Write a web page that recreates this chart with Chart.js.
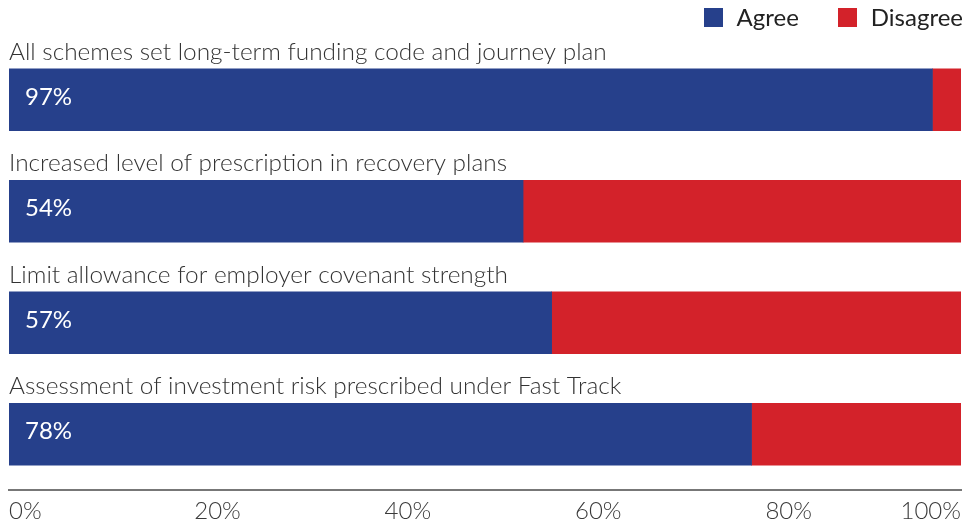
<!DOCTYPE html>
<html>
<head>
<meta charset="utf-8">
<script src="https://cdn.jsdelivr.net/npm/chart.js@4.4.1/dist/chart.umd.min.js"></script>
<style>
  body { margin: 0; background: #fff; }
  #wrap { position: relative; width: 968px; height: 526px; }
  #legend { position: absolute; top: 3px; right: 5px; display: flex; font: 400 24px Lato, sans-serif; color: #222; line-height: 28px; }
  #legend .item { display: flex; align-items: center; margin-left: 39px; }
  #legend .swatch { width: 19px; height: 19px; margin-right: 14px; }
</style>
</head>
<body>
<div id="wrap">
  <div id="legend"></div>
  <canvas id="chart" width="968" height="526"></canvas>
</div>
<script>
const questions = [
    'All schemes set long-term funding code and journey plan',
    'Increased level of prescription in recovery plans',
    'Limit allowance for employer covenant strength',
    'Assessment of investment risk prescribed under Fast Track'
];
const agree = [97, 54, 57, 78];
const disagree = [3, 46, 43, 22];
const seriesNames = ['Agree', 'Disagree'];
const seriesColors = ['#26408b', '#d3222a'];
const tickValues = [0, 20, 40, 60, 80, 100];
const tickLabels = ['0%', '20%', '40%', '60%', '80%', '100%'];

// printed scale sits a little to the right of the bar scale
const tickShift = 1.9;

// legend built in html, top right
const legend = document.getElementById('legend');
seriesNames.forEach(function(name, i) {
    const item = document.createElement('span');
    item.className = 'item';
    const swatch = document.createElement('span');
    swatch.className = 'swatch';
    swatch.style.background = seriesColors[i];
    item.appendChild(swatch);
    item.appendChild(document.createTextNode(name));
    legend.appendChild(item);
});

// question above each bar, agree share inside it
const barText = {
    id: 'barText',
    afterDatasetsDraw(chart) {
        const ctx = chart.ctx;
        const left = chart.chartArea.left;
        const bars = chart.getDatasetMeta(0).data;
        ctx.save();
        bars.forEach(function(bar, i) {
            const top = bar.y - bar.height / 2;
            ctx.textAlign = 'left';
            ctx.textBaseline = 'alphabetic';
            ctx.font = '300 24.4px Lato';
            ctx.fillStyle = '#333';
            ctx.fillText(questions[i], left, top - 9);
            ctx.font = '400 24px Lato';
            ctx.fillStyle = '#fff';
            ctx.fillText(agree[i] + '%', bar.base + 16, bar.y + 5);
        });
        ctx.restore();
    }
};

const ctx = document.getElementById('chart').getContext('2d');
window.myChart = new Chart(ctx, {
    type: 'bar',
    data: {
        labels: questions,
        datasets: [
            { label: seriesNames[0], data: agree, backgroundColor: seriesColors[0], barThickness: 62 },
            { label: seriesNames[1], data: disagree, backgroundColor: seriesColors[1], barThickness: 62 }
        ]
    },
    options: {
        indexAxis: 'y',
        responsive: false,
        animation: false,
        layout: { padding: { top: 44, left: 9, right: 3, bottom: 0 } },
        scales: {
            x: { stacked: true, min: 0, max: 100, display: false },
            y: { stacked: true, display: false },
            x2: {
                type: 'linear',
                position: 'bottom',
                min: -tickShift,
                max: 100 - tickShift,
                grid: { display: false, drawTicks: false },
                border: { display: true, color: '#777', width: 2 },
                afterBuildTicks: function(scale) {
                    const last = tickValues.length - 1;
                    // end labels pinned to the ends of the line
                    scale.ticks = tickValues.map(function(v, i) {
                        return { value: i === 0 ? scale.min : i === last ? scale.max : v };
                    });
                },
                afterFit: function(scale) {
                    scale.height = 36;
                },
                ticks: {
                    align: 'inner',
                    autoSkip: false,
                    maxRotation: 0,
                    padding: 7,
                    color: '#3a3a3a',
                    font: { family: 'Lato', size: 24, weight: '300' },
                    callback: function(value, index) { return tickLabels[index]; }
                }
            }
        },
        plugins: {
            legend: { display: false },
            tooltip: { enabled: false }
        }
    },
    plugins: [barText]
});
</script>
</body>
</html>
